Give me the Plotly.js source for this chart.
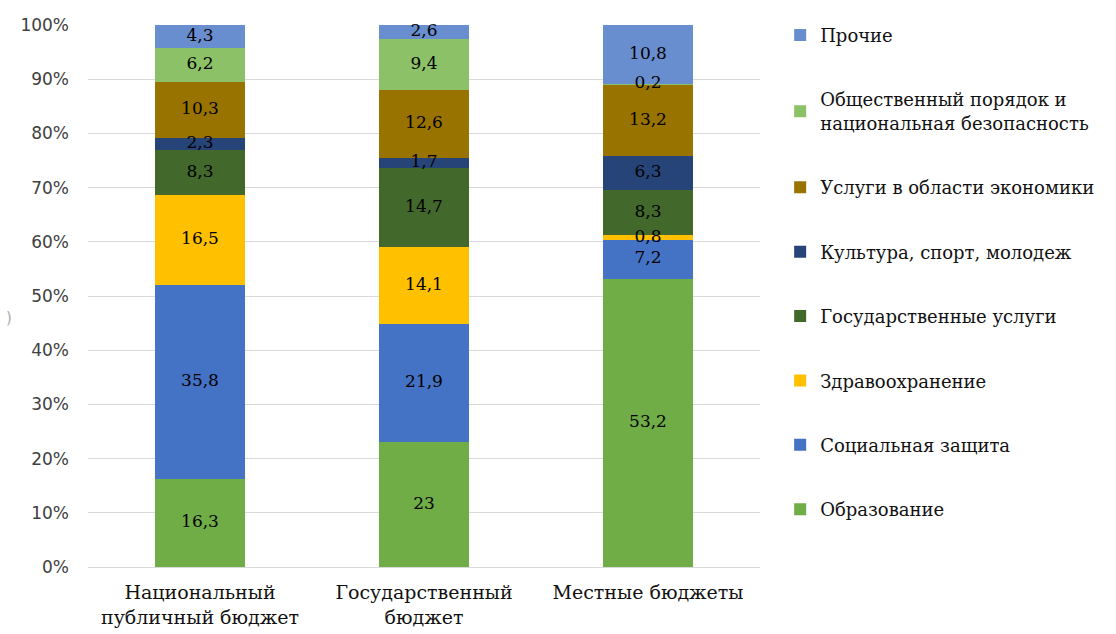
<!DOCTYPE html>
<html>
<head>
<meta charset="utf-8">
<script src="https://cdn.plot.ly/plotly-3.0.1.min.js"></script>
<style>html,body{margin:0;padding:0;background:#fff;}#chart{width:1116px;height:634px;}</style>
</head>
<body>
<div id="chart"></div>
<script>
const categories = ["Национальный<br>публичный бюджет", "Государственный<br>бюджет", "Местные бюджеты"];
const seriesNames = ["Образование", "Социальная защита", "Здравоохранение", "Государственные услуги",
  "Культура, спорт, молодеж", "Услуги в области экономики", "Общественный порядок и<br>национальная безопасность", "Прочие"];
const education = [16.3, 23, 53.2];
const socialProtection = [35.8, 21.9, 7.2];
const healthcare = [16.5, 14.1, 0.8];
const publicServices = [8.3, 14.7, 8.3];
const culture = [2.3, 1.7, 6.3];
const economy = [10.3, 12.6, 13.2];
const publicOrder = [6.2, 9.4, 0.2];
const other = [4.3, 2.6, 10.8];
const colors = ["#70AD47", "#4472C4", "#FFC000", "#43682B", "#264478", "#997300", "#8CC168", "#698ED0"];

const seriesValues = [education, socialProtection, healthcare, publicServices, culture, economy, publicOrder, other];
const SERIF = "DejaVu Serif, serif";
const SANS = "DejaVu Sans, Verdana, sans-serif";

const traces = seriesValues.map((vals, i) => ({
  type: "bar",
  name: seriesNames[i],
  x: categories,
  y: vals,
  marker: {color: colors[i]},
  legendgroup: "g" + i,
  legendrank: seriesValues.length - i,
  hoverinfo: "name+y"
}));

// segment labels drawn on top of all bars, placed at each segment's middle via the y scale
const labX = [], labY = [], labT = [];
categories.forEach((c, j) => {
  let base = 0;
  seriesValues.forEach(vals => {
    labX.push(c);
    labY.push(base + vals[j] / 2);
    labT.push(String(vals[j]).replace(".", ","));
    base += vals[j];
  });
});
traces.push({
  type: "scatter", mode: "text", x: labX, y: labY, text: labT,
  textposition: "middle center",
  textfont: {family: SERIF, size: 17, color: "#000", stretch: "condensed"},
  showlegend: false, hoverinfo: "skip", cliponaxis: false
});

const layout = {
  width: 1116, height: 634,
  barmode: "stack",
  bargap: 0.6,
  margin: {l: 88, r: 356, t: 25, b: 67},
  paper_bgcolor: "#fff", plot_bgcolor: "#fff",
  font: {family: SERIF, size: 17, color: "#222", stretch: "condensed"},
  xaxis: {
    tickfont: {family: SERIF, size: 19, color: "#111", stretch: "condensed"},
    showline: true, linecolor: "#d9d9d9", linewidth: 1,
    ticks: "", automargin: false, ticklabelstandoff: 8
  },
  yaxis: {
    range: [0, 100], dtick: 10, ticksuffix: "%",
    showgrid: true, gridcolor: "#d9d9d9", gridwidth: 1,
    zeroline: false, ticks: "",
    tickfont: {family: SANS, size: 17, color: "#404040"},
    automargin: false, ticklabelstandoff: 18
  },
  legend: {
    x: 1.03, xanchor: "left", y: 1.015, yanchor: "top",
    traceorder: "grouped",
    tracegroupgap: 38,
    maxheight: 630,
    font: {family: SERIF, size: 18, color: "#111", stretch: "condensed"},
    itemwidth: 30
  },
  annotations: [{
    xref: "paper", yref: "paper", x: -0.125, y: 0.46, xanchor: "left",
    text: ")", showarrow: false, font: {family: SANS, size: 15, color: "#aaa"}
  }],
  showlegend: true
};

Plotly.newPlot("chart", traces, layout, {displayModeBar: false, staticPlot: true});
</script>
</body>
</html>
